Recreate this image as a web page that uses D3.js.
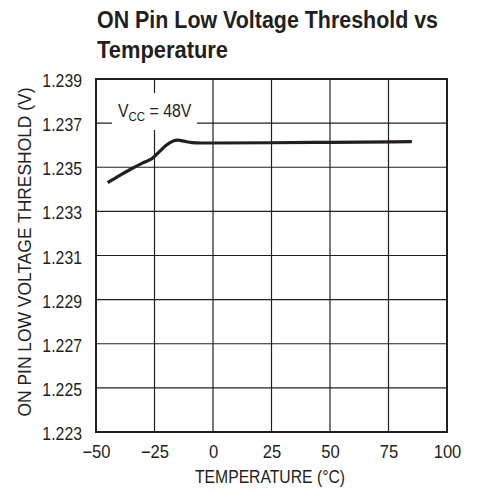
<!DOCTYPE html>
<html><head><meta charset="utf-8">
<script src="https://cdn.jsdelivr.net/npm/d3@7"></script>
<style>
html,body{margin:0;padding:0;background:#fff;}
text{font-family:"Liberation Sans Narrow","Arial Narrow","Liberation Sans",Arial,sans-serif;fill:#231f20;}
</style></head>
<body><svg id="chart" width="478" height="493"></svg>
<script>
const temps = [-45, -40, -35, -30, -26, -23, -20, -17, -15, -12, -9, -5, 0, 25, 50, 85];
const threshold = [1.2343, 1.23462, 1.23492, 1.2352, 1.2354, 1.2357, 1.23600, 1.23619, 1.23623, 1.23617, 1.23612, 1.2361, 1.2361, 1.23611, 1.23613, 1.23616];
const xTicks = [-50, -25, 0, 25, 50, 75, 100];
const yTicks = [1.223, 1.225, 1.227, 1.229, 1.231, 1.233, 1.235, 1.237, 1.239];
const titleLines = ["ON Pin Low Voltage Threshold vs", "Temperature"];
const xTitle = "TEMPERATURE (°C)";
const yTitle = "ON PIN LOW VOLTAGE THRESHOLD (V)";

const svg = d3.select("#chart");
const L = 96, R = 447, T = 79, B = 432;
const x = d3.scaleLinear().domain([-50, 100]).range([L, R]);
const y = d3.scaleLinear().domain([1.223, 1.239]).range([B, T]);
const ink = "#231f20";

function condense(sel, f) {
  sel.each(function(){
    const w = this.getComputedTextLength();
    d3.select(this).attr("textLength", w * f).attr("lengthAdjust", "spacingAndGlyphs");
  });
}

// title
svg.selectAll("text.title").data(titleLines).enter().append("text")
  .attr("class","title")
  .attr("x", 97).attr("y", (d,i)=> 28 + i*30)
  .attr("font-size", 23).attr("font-weight", "bold")
  .attr("textLength", (d,i)=> i===0 ? 341 : 131)
  .attr("lengthAdjust","spacingAndGlyphs")
  .text(d=>d);

// grid
const g = svg.append("g");
g.selectAll("line.vg").data(xTicks.slice(1,-1)).enter().append("line")
  .attr("x1", d=>x(d)).attr("x2", d=>x(d)).attr("y1", T).attr("y2", B)
  .attr("stroke", ink).attr("stroke-width", 1.2);
g.selectAll("line.hg").data(yTicks.slice(1,-1)).enter().append("line")
  .attr("y1", d=>y(d)).attr("y2", d=>y(d)).attr("x1", L).attr("x2", R)
  .attr("stroke", ink).attr("stroke-width", 1.2);

// axes (labels via d3 axis)
const xAxis = d3.axisBottom(x).tickValues(xTicks).tickSize(0).tickPadding(0)
  .tickFormat(d => d < 0 ? "\u2212" + Math.abs(d) : String(d));
const xa = svg.append("g").attr("transform", `translate(0,${B})`).call(xAxis);
xa.select(".domain").remove();
xa.selectAll("text").attr("font-size", 18).attr("dy", 0).attr("y", 26).attr("fill", ink);

const yAxis = d3.axisLeft(y).tickValues(yTicks).tickSize(0).tickPadding(0)
  .tickFormat(d3.format(".3f"));
const ya = svg.append("g").attr("transform", `translate(${L-14},0)`).call(yAxis);
ya.select(".domain").remove();
ya.selectAll("text").attr("font-size", 18).attr("dy", "0.42em").attr("fill", ink);
svg.selectAll(".tick text").attr("font-family", null);
condense(xa.selectAll("text"), 0.92);
condense(ya.selectAll("text"), 0.88);

// label box
const lbl = svg.append("g");
lbl.append("rect").attr("x", 112).attr("y", 93).attr("width", 85).attr("height", 37).attr("fill", "#fff");
const lt = lbl.append("text").attr("x", 118).attr("y", 117).attr("font-size", 18);
lt.append("tspan").text("V");
lt.append("tspan").attr("font-size", 13).attr("dy", 4).text("CC");
lt.append("tspan").attr("dy", -4).text(" = 48V");
condense(lt, 0.88);

// frame
svg.append("rect").attr("x", L).attr("y", T).attr("width", R-L).attr("height", B-T)
  .attr("fill", "none").attr("stroke", ink).attr("stroke-width", 2);

// curve
const line = d3.line().x((d,i)=>x(temps[i])).y(d=>y(d)).curve(d3.curveMonotoneX);
svg.append("path").datum(threshold).attr("d", line)
  .attr("fill","none").attr("stroke", ink).attr("stroke-width", 3.2).attr("stroke-linecap","butt");

// axis titles
const xt = svg.append("text").attr("x", 270).attr("y", 483).attr("text-anchor","middle")
  .attr("font-size", 18).text(xTitle);
xt.attr("textLength", 150).attr("lengthAdjust","spacingAndGlyphs");
const yt = svg.append("text").attr("transform", "translate(31,252) rotate(-90)").attr("text-anchor","middle")
  .attr("font-size", 18).text(yTitle);
yt.attr("textLength", 329).attr("lengthAdjust","spacingAndGlyphs");
</script></body></html>
